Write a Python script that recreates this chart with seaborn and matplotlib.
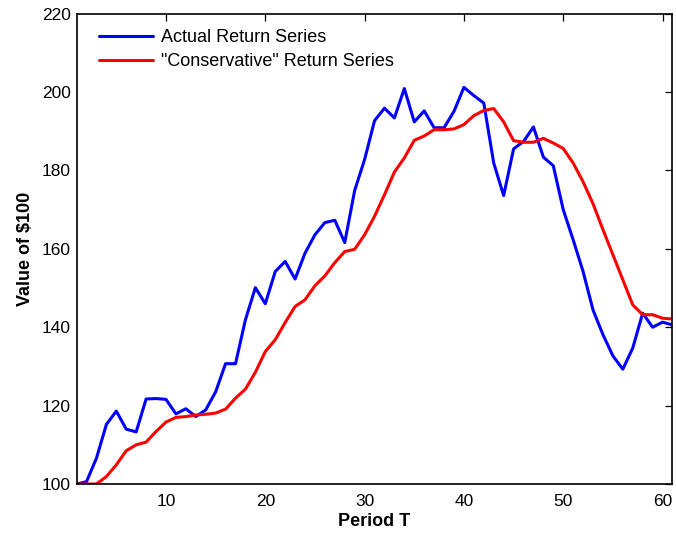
import numpy as np
import pandas as pd
import matplotlib
matplotlib.use("Agg")
import matplotlib.pyplot as plt
import seaborn as sns

# Growth of $100 over 61 periods
periods = list(range(1, 62))

actual = [
    100.0, 100.6, 106.6, 115.2, 118.6, 114.0, 113.3, 121.7, 121.8, 121.6,
    117.9, 119.2, 117.2, 118.9, 123.5, 130.7, 130.7, 141.9, 150.1, 146.0,
    154.2, 156.8, 152.3, 158.9, 163.6, 166.7, 167.3, 161.6, 174.9, 182.8,
    192.7, 195.9, 193.4, 200.9, 192.4, 195.2, 190.9, 190.9, 195.1, 201.2,
    199.1, 197.2, 181.9, 173.6, 185.5, 187.4, 191.1, 183.4, 181.2, 170.0,
    162.3, 154.2, 144.4, 138.1, 132.7, 129.3, 134.7, 143.6, 140.0, 141.3,
    140.6,
]

conservative = [
    100.0, 100.0, 100.0, 101.9, 104.9, 108.5, 110.0, 110.7, 113.4, 115.8,
    117.0, 117.2, 117.6, 117.8, 118.1, 119.1, 121.9, 124.2, 128.5, 133.8,
    136.8, 141.2, 145.3, 147.0, 150.6, 153.1, 156.5, 159.3, 159.9, 163.6,
    168.3, 173.8, 179.6, 183.2, 187.7, 188.8, 190.4, 190.4, 190.6, 191.7,
    194.0, 195.3, 195.8, 192.4, 187.6, 187.2, 187.2, 188.2, 187.0, 185.6,
    181.9, 177.1, 171.5, 164.9, 158.5, 152.1, 145.7, 143.2, 143.2, 142.3,
    142.1,
]

series_names = ["Actual Return Series", '"Conservative" Return Series']
x_ticks = [10, 20, 30, 40, 50, 60]
y_ticks = [100, 120, 140, 160, 180, 200, 220]

df = pd.DataFrame({
    "Period": periods * 2,
    "Value": actual + conservative,
    "Series": [series_names[0]] * len(periods) + [series_names[1]] * len(periods),
})

sns.set_theme(style="white")
plt.rcParams["font.family"] = ["Liberation Sans", "DejaVu Sans"]
plt.rcParams["text.color"] = "black"
plt.rcParams["axes.labelcolor"] = "black"

fig = plt.figure(figsize=(6.76, 5.33), dpi=100)
ax = fig.add_axes([0.1133, 0.0919, 0.8815, 0.8824])

sns.lineplot(
    data=df, x="Period", y="Value", hue="Series",
    palette={series_names[0]: "#0000ff", series_names[1]: "#ff0000"},
    linewidth=2.2, ax=ax, legend=True,
)

ax.set_xlim(1, 61)
ax.set_ylim(100, 220)
ax.set_xticks(x_ticks)
ax.set_yticks(y_ticks)
ax.tick_params(direction="in", length=5, width=0.9, color="black",
               top=True, right=True, labelsize=12.5, labelcolor="black")
ax.tick_params(axis="x", pad=7)
ax.tick_params(axis="y", pad=4)
for s in ax.spines.values():
    s.set_visible(True)
    s.set_color("black")
    s.set_linewidth(1.2)

ax.set_xlabel("Period T", fontsize=13, fontweight="bold", labelpad=3)
ax.set_ylabel("Value of $100", fontsize=13, fontweight="bold", labelpad=6)

leg = ax.legend(loc="upper left", bbox_to_anchor=(0.008, 1.004), frameon=False,
                fontsize=13, handlelength=3.0, handletextpad=0.45,
                borderaxespad=0.55, labelspacing=0.4)
for line in leg.get_lines():
    line.set_linewidth(2.2)

fig.savefig("out.png", dpi=100)
